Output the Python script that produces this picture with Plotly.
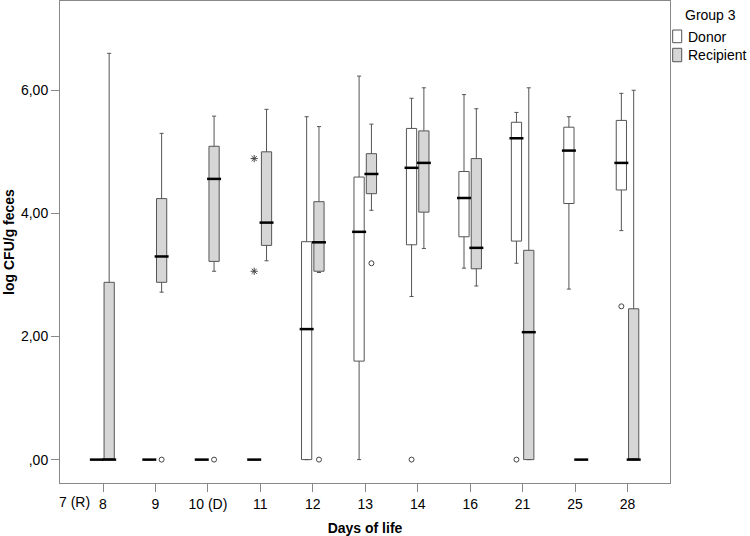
import plotly.graph_objects as go

# categories (days of life)
days = ["8", "9", "10 (D)", "11", "12", "13", "14", "16", "21", "25", "28"]

# Donor box stats (log CFU/g feces)
donor_q1 = [0, 0, 0, 0, 0, 1.60, 3.49, 3.62, 3.55, 4.16, 4.38]
donor_median = [0, 0, 0, 0, 2.12, 3.70, 4.74, 4.25, 5.22, 5.02, 4.82]
donor_q3 = [0, 0, 0, 0, 3.54, 4.59, 5.38, 4.68, 5.48, 5.40, 5.51]
donor_low = [0, 0, 0, 0, 0, 0, 2.65, 3.11, 3.19, 2.77, 3.72]
donor_high = [0, 0, 0, 0, 5.57, 6.23, 5.87, 5.93, 5.64, 5.57, 5.95]

# Recipient box stats
recip_q1 = [0, 2.88, 3.22, 3.48, 3.06, 4.32, 4.02, 3.10, 0, 0, 0]
recip_median = [0, 3.30, 4.56, 3.85, 3.53, 4.64, 4.82, 3.44, 2.07, 0, 0]
recip_q3 = [2.88, 4.24, 5.09, 5.00, 4.19, 4.97, 5.34, 4.89, 3.40, 0, 2.45]
recip_low = [0, 2.72, 3.06, 3.23, 3.04, 4.05, 3.43, 2.82, 0, 0, 0]
recip_high = [6.60, 5.30, 5.58, 5.69, 5.41, 5.45, 6.04, 5.70, 6.04, 0, 6.00]

# outliers
donor_out_days = ["14", "21", "28"]
donor_out_vals = [0, 0, 2.49]
donor_ext_days = ["11", "11"]
donor_ext_vals = [4.89, 3.06]
recip_out_days = ["9", "10 (D)", "12", "13"]
recip_out_vals = [0, 0, 0, 3.19]

FONT = "Arial, Liberation Sans, sans-serif"
LINE = "#555555"
RECIP_FILL = "#d6d6d6"
GAP = 0.53

fig = go.Figure()

fig.add_trace(go.Box(
    name="Donor", x=days, q1=donor_q1, median=donor_median, q3=donor_q3,
    lowerfence=donor_low, upperfence=donor_high,
    fillcolor="white", line=dict(color=LINE, width=1), whiskerwidth=0.4,
    boxpoints=False, offsetgroup="D", alignmentgroup="g"
))
fig.add_trace(go.Box(
    name="Recipient", x=days, q1=recip_q1, median=recip_median, q3=recip_q3,
    lowerfence=recip_low, upperfence=recip_high,
    fillcolor=RECIP_FILL, line=dict(color=LINE, width=1), whiskerwidth=0.4,
    boxpoints=False, offsetgroup="R", alignmentgroup="g"
))

# thick median bars
fig.add_trace(go.Scatter(
    x=days, y=donor_median, mode="markers", hoverinfo="skip",
    marker=dict(symbol="line-ew", size=10, line=dict(color="black", width=2.5)),
    offsetgroup="D", alignmentgroup="g"
))
fig.add_trace(go.Scatter(
    x=days, y=recip_median, mode="markers", hoverinfo="skip",
    marker=dict(symbol="line-ew", size=10, line=dict(color="black", width=2.5)),
    offsetgroup="R", alignmentgroup="g"
))

# outliers (o) and extremes (*)
fig.add_trace(go.Scatter(
    x=donor_out_days, y=donor_out_vals, mode="markers",
    marker=dict(symbol="circle-open", size=5, color="#444", line=dict(width=1)),
    offsetgroup="D", alignmentgroup="g"
))
fig.add_trace(go.Scatter(
    x=recip_out_days, y=recip_out_vals, mode="markers",
    marker=dict(symbol="circle-open", size=5, color="#444", line=dict(width=1)),
    offsetgroup="R", alignmentgroup="g"
))
fig.add_trace(go.Scatter(
    x=donor_ext_days, y=donor_ext_vals, mode="markers",
    marker=dict(symbol="asterisk-open", size=6, color="#444", line=dict(width=1)),
    offsetgroup="D", alignmentgroup="g"
))

fig.update_layout(
    width=750, height=536,
    margin=dict(l=60, r=80, t=1, b=53, autoexpand=False),
    paper_bgcolor="white", plot_bgcolor="white",
    font=dict(family=FONT, size=14, color="black"),
    boxmode="group", boxgap=GAP, boxgroupgap=0.17,
    scattermode="group", scattergap=GAP,
    showlegend=False,
)

fig.update_xaxes(
    type="category", categoryorder="array", categoryarray=days,
    range=[-0.82, 10.81],
    showline=True, mirror=True, linecolor="#888", linewidth=1,
    ticks="outside", ticklen=8, tickcolor="#888",
    showgrid=False, zeroline=False,
    title=dict(text="<b>Days of life</b>", font=dict(size=14), standoff=12),
)
fig.update_yaxes(
    range=[-0.38, 7.45],
    tickvals=[0, 2, 4, 6], ticktext=[",00", "2,00", "4,00", "6,00"],
    showline=True, mirror=True, linecolor="#888", linewidth=1,
    ticks="outside", ticklen=8, tickcolor="#888",
    showgrid=False, zeroline=False,
    title=dict(text="<b>log CFU/g feces</b>", font=dict(size=14), standoff=3),
)

fig.add_annotation(
    text="7 (R)", x=0, xref="x", y=0, yref="paper",
    xshift=-29, yshift=-19, showarrow=False,
    xanchor="center", yanchor="middle", font=dict(size=14)
)

# legend drawn by hand (SPSS style: small square keys)
fig.add_annotation(text="Group 3", x=1.0656, y=0.971, xref="paper", yref="paper",
                   showarrow=False, xanchor="center", yanchor="middle")
fig.add_annotation(text="Donor", x=1.026, y=0.925, xref="paper", yref="paper",
                   showarrow=False, xanchor="left", yanchor="middle")
fig.add_annotation(text="Recipient", x=1.026, y=0.888, xref="paper", yref="paper",
                   showarrow=False, xanchor="left", yanchor="middle")
fig.add_shape(type="rect", xref="paper", yref="paper",
              x0=1.0044, x1=1.0192, y0=0.9135, y1=0.9398,
              fillcolor="white", line=dict(color=LINE, width=1))
fig.add_shape(type="rect", xref="paper", yref="paper",
              x0=1.0044, x1=1.0192, y0=0.874, y1=0.9019,
              fillcolor=RECIP_FILL, line=dict(color=LINE, width=1))

# drop the default 8px page margin so the figure fills the window
fig.write_html("out.html", config={"displayModeBar": False},
               post_script="document.body.style.margin='0px';")
